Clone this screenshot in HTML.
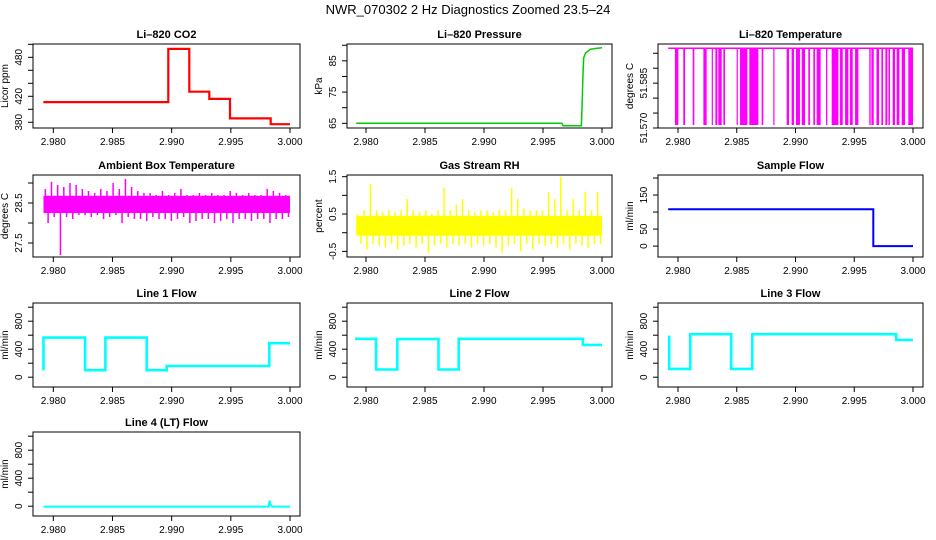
<!DOCTYPE html>
<html><head><meta charset="utf-8"><style>
body{margin:0;background:#fff}
svg{display:block;font-family:"Liberation Sans",sans-serif}
</style></head><body>
<svg id="chart" width="936" height="540" viewBox="0 0 936 540" xmlns="http://www.w3.org/2000/svg">
<rect width="936" height="540" fill="#fff"/>
<text x="468" y="14" text-anchor="middle" font-size="13">NWR_070302  2 Hz Diagnostics Zoomed 23.5–24</text>
</svg>
<script>
// ---- data ----
const xTicks=[2.980,2.985,2.990,2.995,3.000];
const xTickLabels=["2.980","2.985","2.990","2.995","3.000"];
const co2X=[2.97916,2.98972,2.98972,2.99149,2.99149,2.99318,2.99318,2.99493,2.99493,2.99837,2.99837,3.0];
const co2Y=[411,411,493,493,427,427,416,416,386,386,377,377];
const presX=[2.97917,2.9966,2.9967,2.99825,2.99832,2.99838,2.99845,2.9986,2.9990,2.9995,3.0];
const presY=[65,65,64.2,64.2,72,80,86,87.5,88.7,89,89.2];
const tempTop=51.5967, tempLow=51.571;
const tempDrops=[[2.97974,2.98003],[2.98045,2.98060],[2.98125,2.98139],[2.98216,2.98244],[2.98287,2.98295],[2.98318,2.98335],[2.98343,2.98372],[2.98386,2.98400],[2.98499,2.98508],[2.98528,2.98590],[2.98607,2.98684],[2.98712,2.98726],[2.98811,2.98820],[2.98925,2.98945],[2.98967,2.98987],[2.99004,2.99038],[2.99053,2.99081],[2.99109,2.99123],[2.99152,2.99166],[2.99180,2.99214],[2.99260,2.99271],[2.99308,2.99365],[2.99379,2.99402],[2.99422,2.99450],[2.99464,2.99487],[2.99507,2.99535],[2.99628,2.99640],[2.99646,2.99666],[2.99689,2.99711],[2.99731,2.99745],[2.99765,2.99782],[2.99791,2.99804],[2.99827,2.99847],[2.99861,2.99884],[2.99904,2.99932],[2.99960,3.0]];
const ambHi=[28.85,29.03,28.95,28.9,29.0,28.95,28.85,28.8,28.75,28.85,28.8,29.0,28.85,29.1,28.9,28.8,28.75,28.75,28.7,28.8,28.7,28.75,28.85,28.7,28.7,28.75,28.7,28.75,28.7,28.7,28.8,28.75,28.7,28.75,28.7,28.7,28.85,28.8,28.75,28.7];
const ambLo=[28.0,28.15,27.2,28.15,28.1,28.2,28.2,28.15,28.2,28.1,28.15,28.2,28.0,28.15,28.1,28.1,28.05,28.15,28.1,28.1,28.05,28.1,28.15,28.0,28.05,28.1,28.1,28.0,28.05,28.1,28.0,28.1,28.1,28.05,28.1,28.1,28.0,28.1,28.1,28.15];
const ambCore=[28.25,28.68];
const rhHi=[0.5,0.6,1.3,0.6,0.55,0.6,0.55,0.6,0.9,0.6,0.55,0.6,0.5,0.6,1.2,0.6,0.75,0.9,0.6,0.55,0.6,0.6,0.55,0.6,0.6,1.2,0.9,0.65,0.6,0.6,0.6,1.1,0.9,1.5,0.6,0.9,0.6,1.1,0.6,1.1];
const rhLo=[-0.3,-0.45,-0.3,-0.35,-0.4,-0.3,-0.45,-0.35,-0.3,-0.4,-0.3,-0.55,-0.35,-0.3,-0.4,-0.3,-0.35,-0.3,-0.4,-0.3,-0.35,-0.3,-0.4,-0.55,-0.35,-0.3,-0.5,-0.3,-0.45,-0.3,-0.35,-0.3,-0.4,-0.3,-0.45,-0.3,-0.35,-0.4,-0.3,-0.3];
const rhCore=[-0.08,0.45];
const sfX=[2.97917,2.99662,2.99662,3.0];
const sfY=[108,108,0,0];
const l1X=[2.97917,2.97917,2.98269,2.98269,2.98440,2.98440,2.98789,2.98789,2.98958,2.98958,2.99825,2.99825,3.0];
const l1Y=[100,565,565,100,100,565,565,100,100,160,160,486,486];
const l2X=[2.97907,2.98086,2.98086,2.98265,2.98265,2.98614,2.98614,2.98786,2.98786,2.99838,2.99838,3.0];
const l2Y=[549,549,110,110,545,545,110,110,549,549,461,461];
const l3X=[2.97925,2.97925,2.98105,2.98105,2.98453,2.98453,2.98632,2.98632,2.99857,2.99857,3.0];
const l3Y=[594,119,119,614,614,119,119,614,614,533,533];
const l4X=[2.97917,2.9982,2.99828,2.99836,2.9985,3.0];
const l4Y=[-5,-5,80,20,-5,-5];

// ---- layout ----
const colL=[33,347,658], colW=[267,265,265];
const colT0=[53.3,366,678], colT1=[290,602,913];
const rowT=[44,175,303,432], rowH=[84,82,84,84];
const NS="http://www.w3.org/2000/svg";
const svg=document.getElementById('chart');
function mk(tag,attrs,parent){const e=document.createElementNS(NS,tag);for(const k in attrs)e.setAttribute(k,attrs[k]);(parent||svg).appendChild(e);return e;}

function panel(key,col,row,title,ytitle,ylim,yt,ylab){
  const L=colL[col],T=rowT[row],W=colW[col],H=rowH[row];
  const g=mk('g',{});
  
  
  const xs=v=>colT0[col]+(v-2.98)/0.02*(colT1[col]-colT0[col]);
  const ys=v=>T+H-(v-ylim[0])/(ylim[1]-ylim[0])*H;
  const t=mk('text',{x:L+W/2,y:T-6,'text-anchor':'middle','font-size':11,'font-weight':'bold'},g);
  t.textContent=title;
  
  
  const xa=mk('g',{stroke:'#000','stroke-width':1,fill:'none'},g);
  
  
  mk('line',{x1:xs(xTicks[0]),x2:xs(xTicks[4]),y1:T+H,y2:T+H},xa);
  xTicks.forEach((v,i)=>{
    mk('line',{x1:xs(v),x2:xs(v),y1:T+H,y2:T+H+5},xa);
    const tl=mk('text',{x:xs(v),y:T+H+17,'text-anchor':'middle','font-size':10,fill:'#000',stroke:'none'},g);
    tl.textContent=xTickLabels[i];
    
    
  });
  const ya=mk('g',{stroke:'#000','stroke-width':1,fill:'none'},g);
  
  
  mk('line',{x1:L,x2:L,y1:ys(yt[0]),y2:ys(yt[yt.length-1])},ya);
  yt.forEach(v=>mk('line',{x1:L-5,x2:L,y1:ys(v),y2:ys(v)},ya));
  ylab.forEach(v=>{
    const y=ys(v),x=L-11;
    const tl=mk('text',{x:x,y:y,'text-anchor':'middle','font-size':10,transform:`rotate(-90 ${x} ${y})`},g);
    tl.textContent=String(v);
    
    
  });
  const yx=L-25, yy=T+H/2;
  const yt2=mk('text',{x:yx,y:yy,'text-anchor':'middle','font-size':10,transform:`rotate(-90 ${yx} ${yy})`},g);
  yt2.textContent=ytitle;
  
  
  const plot=mk('g',{},g);
  
  
  const box=mk('rect',{x:L,y:T,width:W,height:H,fill:'none',stroke:'#000','stroke-width':1},g);
  
  
  return {xs,ys,plot};
}
function line(p,X,Y,color,w){
  const pts=X.map((x,i)=>p.xs(x).toFixed(1)+','+p.ys(Y[i]).toFixed(1)).join(' ');
  const pl=mk('polyline',{points:pts,fill:'none',stroke:color,'stroke-width':w},p.plot);
  
  
}
function noisy(p,hi,lo,core,color){
  const x0=2.97917,x1=3.0,n=hi.length,dx=(x1-x0)/n;
  const cr=mk('rect',{x:p.xs(x0),y:p.ys(core[1]),width:p.xs(x1)-p.xs(x0),height:p.ys(core[0])-p.ys(core[1]),fill:color},p.plot);
  
  
  hi.forEach((h,i)=>{
    const xa=p.xs(x0+dx*(i+0.3)), xb=p.xs(x0+dx*(i+0.75));
    const a=mk('line',{x1:xa,x2:xa,y1:p.ys(h),y2:p.ys(core[0]),stroke:color,'stroke-width':1.5},p.plot);
    
    
    const b=mk('line',{x1:xb,x2:xb,y1:p.ys(core[1]),y2:p.ys(lo[i]),stroke:color,'stroke-width':1.5},p.plot);
    
    
  });
}

let p=panel('co2',0,0,'Li–820 CO2','Licor ppm',[371.2,500.5],[380,400,420,440,460,480,500],[380,420,480]);
line(p,co2X,co2Y,'#ff0000',2.2);
p=panel('pressure',1,0,'Li–820 Pressure','kPa',[63.5,90.4],[65,70,75,80,85,90],[65,75,85]);
line(p,presX,presY,'#00cc00',1.5);
p=panel('li820-temp',2,0,'Li–820 Temperature','degrees C',[51.570,51.5981],[51.570,51.575,51.580,51.585,51.590,51.595],['51.570','51.585']);
line(p,[2.97917,3.0],[tempTop,tempTop],'#ff00ff',1.5);
tempDrops.forEach(d=>{
  const r=mk('rect',{x:p.xs(d[0]),y:p.ys(tempTop),width:Math.max(1.2,p.xs(d[1])-p.xs(d[0])),height:p.ys(tempLow)-p.ys(tempTop),fill:'#ff00ff'},p.plot);
  
  
});
p=panel('ambient-temp',0,1,'Ambient Box Temperature','degrees C',[27.15,29.2],[27.5,28,28.5,29],[27.5,28.5]);
noisy(p,ambHi,ambLo,ambCore,'#ff00ff');
p=panel('gas-rh',1,1,'Gas Stream RH','percent',[-0.65,1.545],[-0.5,0,0.5,1,1.5],[-0.5,0.5,1.5]);
noisy(p,rhHi,rhLo,rhCore,'#ffff00');
p=panel('sample-flow',2,1,'Sample Flow','ml/min',[-32,208.8],[0,50,100,150,200],[0,50,150]);
line(p,sfX,sfY,'#0000ff',2);
const fl=[-140,1060], ft=[0,200,400,600,800,1000], flb=[0,400,800];
p=panel('line1-flow',0,2,'Line 1 Flow','ml/min',fl,ft,flb); line(p,l1X,l1Y,'#00ffff',2.6);
p=panel('line2-flow',1,2,'Line 2 Flow','ml/min',fl,ft,flb); line(p,l2X,l2Y,'#00ffff',2.6);
p=panel('line3-flow',2,2,'Line 3 Flow','ml/min',fl,ft,flb); line(p,l3X,l3Y,'#00ffff',2.6);
p=panel('line4-flow',0,3,'Line 4 (LT) Flow','ml/min',fl,ft,flb); line(p,l4X,l4Y,'#00ffff',2);
</script>
</body></html>
